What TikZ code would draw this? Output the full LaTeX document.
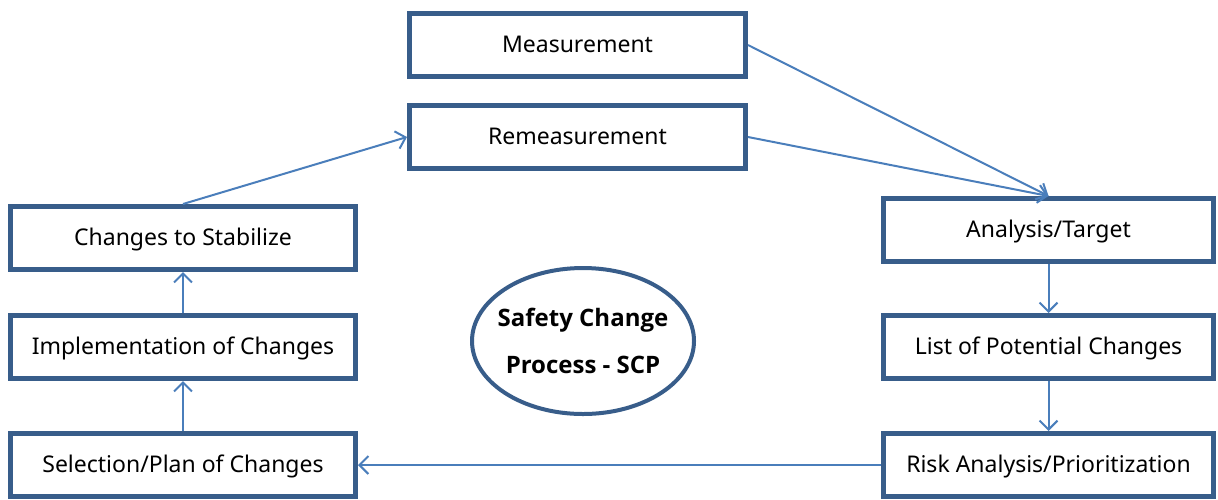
\documentclass[tikz,border=0pt]{standalone}
\usepackage{fontspec}
\setmainfont{Noto Sans}
\newfontfamily\scpfont{Open Sans}
\usetikzlibrary{shapes.geometric,arrows.meta}
\definecolor{boxblue}{RGB}{56,93,138}
\definecolor{arrowblue}{RGB}{74,126,187}

\begin{document}
\begin{tikzpicture}[x=0.5pt, y=-0.5pt,
	stepbox/.style={draw=boxblue, line width=2.5pt, fill=white, minimum height=31.5pt, inner sep=0pt,
		text height=0.78em, text depth=0pt, font=\fontsize{11.5}{13}\selectfont},
	link/.style={draw=arrowblue, line width=1pt, -{Straight Barb[length=4.5pt, width=9pt]}}]
	\useasboundingbox (0, 0) rectangle (1218, 499);
	% top row
	\node[stepbox, minimum width=168pt] (meas) at (577.5, 45) {Measurement};
	\node[stepbox, minimum width=168pt] (remeas) at (577.5, 137) {Remeasurement};
	% right column
	\node[stepbox, minimum width=165pt] (target) at (1048.5, 230) {Analysis/Target};
	\node[stepbox, minimum width=165pt] (potential) at (1048.5, 347) {List of Potential Changes};
	\node[stepbox, minimum width=165pt] (risk) at (1048.5, 465) {Risk Analysis/Prioritization};
	% left column
	\node[stepbox, minimum width=172.5pt] (stabilize) at (183, 238) {Changes to Stabilize};
	\node[stepbox, minimum width=172.5pt] (implement) at (183, 347) {Implementation of Changes};
	\node[stepbox, minimum width=172.5pt] (select) at (183, 465) {Selection/Plan of Changes};
	% center
	\node[ellipse, draw=boxblue, line width=2pt, minimum width=111pt, minimum height=73pt,
		inner xsep=-6pt, inner ysep=0pt,
		align=center, font=\scpfont\bfseries\fontsize{12}{23.5}\selectfont] (scp) at (583, 341)
		{Safety Change\\Process - SCP};

	\draw[link] (meas.east) -- (target.north);
	\draw[link] (remeas.east) -- (target.north);
	\draw[link] (target.south) -- (potential.north);
	\draw[link] (potential.south) -- (risk.north);
	\draw[link] (risk.west) -- (select.east);
	\draw[link] (select.north) -- (implement.south);
	\draw[link] (implement.north) -- (stabilize.south);
	\draw[link] (stabilize.north) -- (remeas.west);
\end{tikzpicture}
\end{document}
